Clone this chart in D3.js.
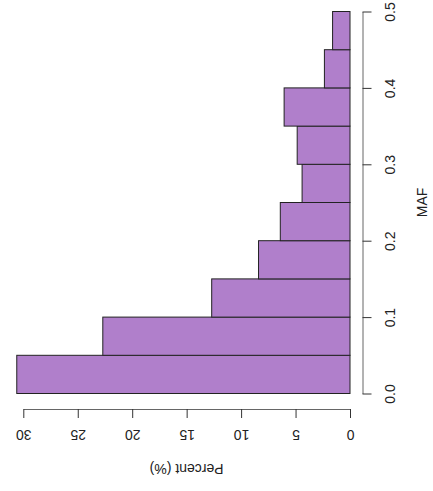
<!DOCTYPE html>
<html>
<head>
<meta charset="utf-8">
<script src="https://cdn.jsdelivr.net/npm/d3@7"></script>
<style>
  body { margin: 0; background: #fff; }
  text { font-family: "Liberation Sans", Arial, sans-serif; fill: #222; }
</style>
</head>
<body>
<div id="chart"></div>
<script>
// histogram bins of MAF (lower edges), bin width 0.05
const binStarts = [0.00, 0.05, 0.10, 0.15, 0.20, 0.25, 0.30, 0.35, 0.40, 0.45];
const binWidth = 0.05;
// percent of variants in each bin
const percents = [30.6, 22.7, 12.7, 8.4, 6.4, 4.4, 4.85, 6.05, 2.35, 1.6];
const percentTicks = [0, 5, 10, 15, 20, 25, 30];
const mafTicks = [0.0, 0.1, 0.2, 0.3, 0.4, 0.5];

const viewportWidth = 433;
const viewportHeight = 491;

const svg = d3.select("#chart")
  .append("svg")
  .attr("width", viewportWidth)
  .attr("height", viewportHeight);

// percent runs right to left, MAF bottom to top
const x = d3.scaleLinear()
  .domain([0, 30])
  .range([350, 23.3]);

const y = d3.scaleLinear()
  .domain([0, 0.5])
  .range([393.5, 11.5]);

const data = binStarts.map((b, i) => ({ lo: b, hi: b + binWidth, value: percents[i] }));

svg.selectAll("rect.bar")
  .data(data)
  .enter()
  .append("rect")
  .attr("class", "bar")
  .attr("x", d => x(d.value))
  .attr("y", d => y(d.hi))
  .attr("width", d => x(0) - x(d.value))
  .attr("height", d => y(d.lo) - y(d.hi))
  .attr("fill", "#b07fcb")
  .attr("stroke", "#222")
  .attr("stroke-width", 1);

// percent axis (bottom), labels upside down
const xAxis = svg.append("g")
  .attr("transform", "translate(0,409)")
  .call(d3.axisBottom(x).tickValues(percentTicks).tickSize(9).tickSizeOuter(0));

xAxis.select(".domain").attr("stroke", "#666");
xAxis.selectAll(".tick line").attr("stroke", "#333");
xAxis.selectAll(".tick text")
  .attr("y", 0)
  .attr("dy", null)
  .attr("font-size", 14)
  .attr("font-family", "Liberation Sans, Arial, sans-serif")
  .attr("fill", "#222")
  .attr("dominant-baseline", "central")
  .attr("text-anchor", "middle")
  .attr("transform", "translate(0,26) rotate(180)");

// MAF axis (right), labels read bottom to top
const yAxis = svg.append("g")
  .attr("transform", "translate(362.5,0)")
  .call(d3.axisRight(y).tickValues(mafTicks).tickFormat(d3.format(".1f")).tickSize(9).tickSizeOuter(0));

yAxis.select(".domain").attr("stroke", "#666");
yAxis.selectAll(".tick line").attr("stroke", "#333");
yAxis.selectAll(".tick text")
  .attr("x", 0)
  .attr("dy", null)
  .attr("font-size", 14)
  .attr("font-family", "Liberation Sans, Arial, sans-serif")
  .attr("fill", "#222")
  .attr("dominant-baseline", "central")
  .attr("text-anchor", "middle")
  .attr("transform", "translate(27.5,0) rotate(-90)");

// axis titles
svg.append("text")
  .attr("transform", `translate(${(x(0) + x(30)) / 2},469) rotate(180)`)
  .attr("text-anchor", "middle")
  .attr("dominant-baseline", "central")
  .attr("font-size", 14)
  .text("Percent (%)");

svg.append("text")
  .attr("transform", `translate(421.5,${(y(0) + y(0.5)) / 2}) rotate(-90)`)
  .attr("text-anchor", "middle")
  .attr("dominant-baseline", "central")
  .attr("font-size", 14)
  .text("MAF");
</script>
</body>
</html>
